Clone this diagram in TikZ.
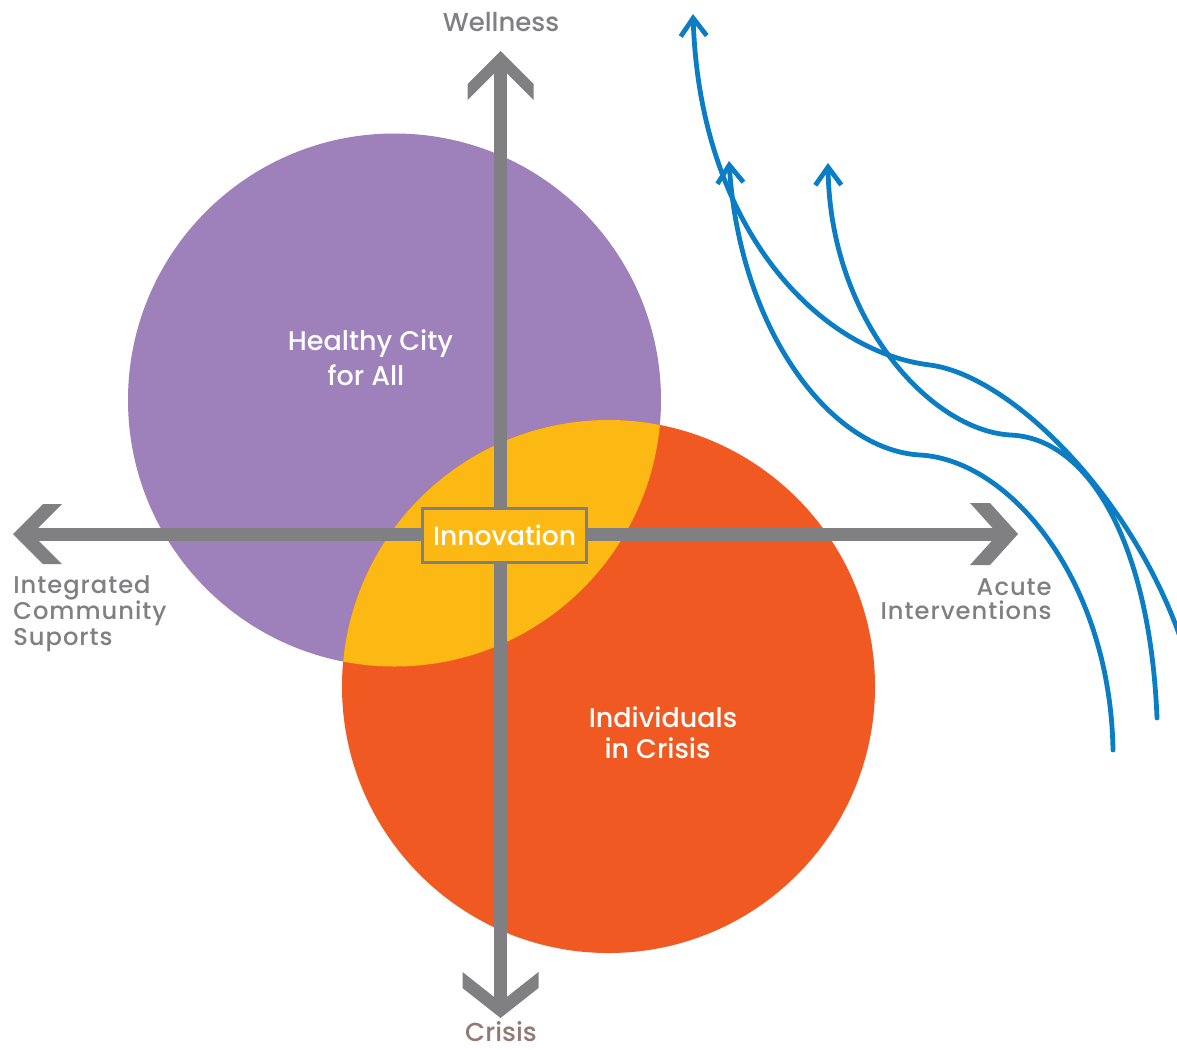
\documentclass[tikz,border=0pt]{standalone}
\usepackage{fontspec}
\IfFontExistsTF{Poppins Medium}{\setmainfont{Poppins Medium}}{\setmainfont{Poppins}}
\newfontfamily\spacedfont[LetterSpace=4]{Poppins}
\IfFontExistsTF{Poppins Medium}{\renewfontfamily\spacedfont[LetterSpace=4]{Poppins Medium}}{}
\usetikzlibrary{arrows.meta}
\definecolor{cpurple}{RGB}{158,128,187}
\definecolor{corange}{RGB}{240,90,34}
\definecolor{cyellow}{RGB}{253,185,19}
\definecolor{cgray}{RGB}{128,128,130}
\definecolor{cblue}{RGB}{10,125,196}
\tikzset{
  axisline/.style={draw=cgray, line width=6.5pt},
  chevron/.style={fill=cgray},
  graylbl/.style={text=cgray, inner sep=0pt, font=\spacedfont\fontsize{12.1}{14}\selectfont},
  bigwhite/.style={text=white, inner sep=0pt, font=\fontsize{13.5}{16}\selectfont},
  poletext/.style={text=cgray, inner sep=0pt, font=\fontsize{13}{16}\selectfont},
  bluecurve/.style={draw=cblue, line width=2.4pt, line cap=round,
    -{Straight Barb[length=9pt,width=13pt]}},
}
\begin{document}
\begin{tikzpicture}[x=0.5pt,y=-0.5pt]
\useasboundingbox (0,0) rectangle (1177,1049);
\clip (0,0) rectangle (1177,1049);
\fill[white] (0,0) rectangle (1177,1049);

% circles
\coordinate (P) at (394.5,400);
\coordinate (O) at (608.5,686.5);
\fill[cpurple] (P) circle[radius=266.5];
\fill[corange] (O) circle[radius=266.5];
\begin{scope}
  \clip (P) circle[radius=266.5];
  \fill[cyellow] (O) circle[radius=266.5];
\end{scope}

% axes
\coordinate (N) at (500.5,62);
\coordinate (S) at (500.5,1005);
\coordinate (W) at (25,534);
\coordinate (E) at (1005,534);
\draw[axisline] (W) -- (E);
\draw[axisline] (N) -- (S);
\fill[chevron] (500.5,51) -- (533.5,84) -- (533.5,100) -- (500.5,67) -- (467.5,100) -- (467.5,84) -- cycle;
\fill[chevron] (500.5,1018) -- (538.5,988) -- (538.5,972) -- (500.5,1002) -- (462.5,972) -- (462.5,988) -- cycle;
\fill[chevron] (13,534) -- (43,504) -- (62,504) -- (32,534) -- (62,564) -- (43,564) -- cycle;
\fill[chevron] (1018,534) -- (990,503) -- (970,503) -- (998,534) -- (970,565) -- (990,565) -- cycle;

% innovation box
\node[draw=cgray, line width=1.5pt, fill=cyellow, text=white, inner sep=0pt,
      minimum width=82pt, minimum height=27pt,
      font=\fontsize{13.3}{16}\selectfont] (innov) at (504.7,535.3) {Innovation};

% circle labels
\node[bigwhite, anchor=base] (hc1) at (370.5,350) {Healthy City};
\node[bigwhite, anchor=base] (hc2) at (366,385) {for All};
\node[bigwhite, anchor=base] (ic1) at (663,727) {Individuals};
\node[bigwhite, anchor=base] (ic2) at (657.5,758) {in Crisis};

% pole labels
\node[poletext, anchor=base] (well) at (501,32) {Wellness};
\node[poletext, anchor=base, text=cgray!85!corange] (crisis) at (501,1041) {Crisis};
\node[graylbl, anchor=base west] (icsa) at (13,593) {Integrated};
\node[graylbl, anchor=base west] (icsb) at (13,619) {Community};
\node[graylbl, anchor=base west] (icsc) at (13,645) {Suports};
\node[graylbl, anchor=base east] (aia) at (1052,595) {Acute};
\node[graylbl, anchor=base east] (aib) at (1052,619) {Interventions};

% blue curves
\coordinate (c1s) at (1195,690);
\coordinate (c1m) at (930,365);
\coordinate (c1t) at (693,14);
\coordinate (c2s) at (1113,750);
\coordinate (c2m) at (920,455);
\coordinate (c2t) at (729,161);
\coordinate (c3s) at (1157,718);
\coordinate (c3m) at (1010,435);
\coordinate (c3t) at (828,163);
\draw[bluecurve] (c1s) .. controls (1160,525) and (1020,377) .. (c1m)
  .. controls (820,352) and (700,230) .. (c1t);
\draw[bluecurve] (c2s) .. controls (1110,580) and (1010,460) .. (c2m)
  .. controls (830,450) and (740,330) .. (c2t);
\draw[bluecurve] (c3s) .. controls (1150,545) and (1090,438) .. (c3m)
  .. controls (930,430) and (830,320) .. (c3t);
\end{tikzpicture}
\end{document}
